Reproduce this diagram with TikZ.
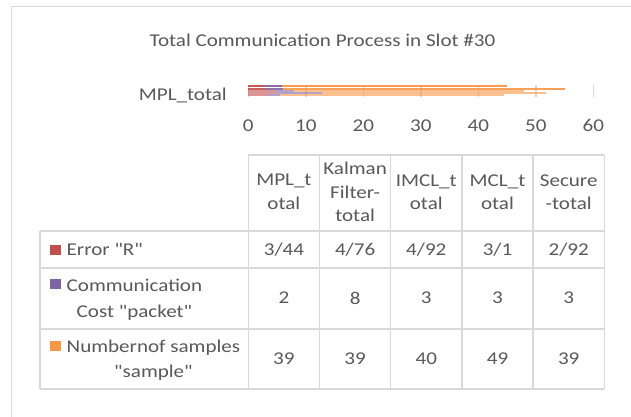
\documentclass[tikz,border=0pt]{standalone}
\usepackage{fontspec}
\setmainfont{Carlito}[FakeStretch=1.17,Ligatures=TeXReset]
\definecolor{txt}{HTML}{595959}
\definecolor{gridc}{HTML}{D9D9D9}
\definecolor{serr}{HTML}{C0504D}
\definecolor{scost}{HTML}{8064A2}
\definecolor{ssamp}{HTML}{F79646}

\begin{document}
\begin{tikzpicture}[x=1pt,y=-1pt,
  lbl/.style={text=txt,font=\fontsize{18}{23.5}\selectfont,inner sep=0pt,align=center},
  rule/.style={draw=gridc,line width=1.5pt},
  tickline/.style={draw=gridc,line width=1.5pt},
  keybox/.style={minimum width=11.5pt,minimum height=10pt,inner sep=0pt,draw=none,anchor=west}]
\useasboundingbox (0,0) rectangle (631,417);
\fill[white] (0,0) rectangle (631,417);

% chart frame
\draw[gridc,line width=1pt] (11,417) -- (11,7) -- (631,7);

% title
\node[lbl,anchor=base] (title) at (322.5,46.5) {Total Communication Process in Slot \#30};

% value axis: grid ticks and labels (0 at x=248.3, 5.75 per unit)
\foreach \v in {0,10,...,60} {
  \draw[tickline] ({248.3+5.75*\v},85) -- ({248.3+5.75*\v},97);
  \node[lbl,anchor=base] (ax\v) at ({248.3+5.75*\v},131.5) {\v};
}
\node[lbl,anchor=base east] (cat) at (227,101) {MPL\_total};

% stacked bars, one thin row per method
\foreach \yy/\e/\c/\s/\op in {86.5/2.92/3/39/0.95, 88.6/3.1/3/49/0.9,
    90.7/4.92/3/40/0.6, 92.8/4.76/8/39/0.6, 94.9/3.44/2/39/0.6} {
  \fill[serr,opacity=\op] (248.3,{\yy-1}) rectangle ({248.3+5.75*\e},{\yy+1});
  \fill[scost,opacity=\op] ({248.3+5.75*\e},{\yy-1}) rectangle ({248.3+5.75*(\e+\c)},{\yy+1});
  \fill[ssamp,opacity=\op] ({248.3+5.75*(\e+\c)},{\yy-1}) rectangle ({248.3+5.75*(\e+\c+\s)},{\yy+1});
}

% data table grid
\draw[rule] (248.3,155) -- (604.3,155);
\foreach \yy in {231,268,329,389} \draw[rule] (40,\yy) -- (604.3,\yy);
\draw[rule] (40,231) -- (40,389);
\foreach \xx in {248.3,319.5,390.7,461.9,533.1,604.3} \draw[rule] (\xx,155) -- (\xx,389);

% column headers
\node[lbl] (h1) at (283.9,192) {MPL\_t\\otal};
\node[lbl] (h2) at (355.1,192) {Kalman\\Filter-\\total};
\node[lbl] (h3) at (426.3,192) {IMCL\_t\\otal};
\node[lbl] (h4) at (497.5,192) {MCL\_t\\otal};
\node[lbl] (h5) at (568.7,192) {Secure\\-total};

% row labels with legend keys; second lines centred under the first
\node[keybox,fill=serr] (k1) at (49.5,250) {};
\node[lbl,anchor=base west] (r1) at (66.5,255.5) {Error "R"};
\node[keybox,fill=scost] (k2) at (49.5,284) {};
\node[lbl,anchor=base west] (r2a) at (66.5,291) {Communication};
\node[lbl,anchor=base] (r2b) at ([yshift=-26pt]r2a.base) {Cost "packet"};
\node[keybox,fill=ssamp] (k3) at (49.5,346.3) {};
\node[lbl,anchor=base west] (r3a) at (66.5,352.7) {Numbernof samples};
\node[lbl,anchor=base] (r3b) at ([yshift=-25pt]r3a.base) {"sample"};

% values
\foreach \xx/\a/\b/\c [count=\i] in {283.9/3\slash44/2/39, 355.1/4\slash76/8/39,
    426.3/4\slash92/3/40, 497.5/3\slash1/3/49, 568.7/2\slash92/3/39} {
  \node[lbl] (ve\i) at (\xx,249.5) {\a};
  \node[lbl] (vc\i) at (\xx,298) {\b};
  \node[lbl] (vs\i) at (\xx,358.5) {\c};
}
\end{tikzpicture}
\end{document}
